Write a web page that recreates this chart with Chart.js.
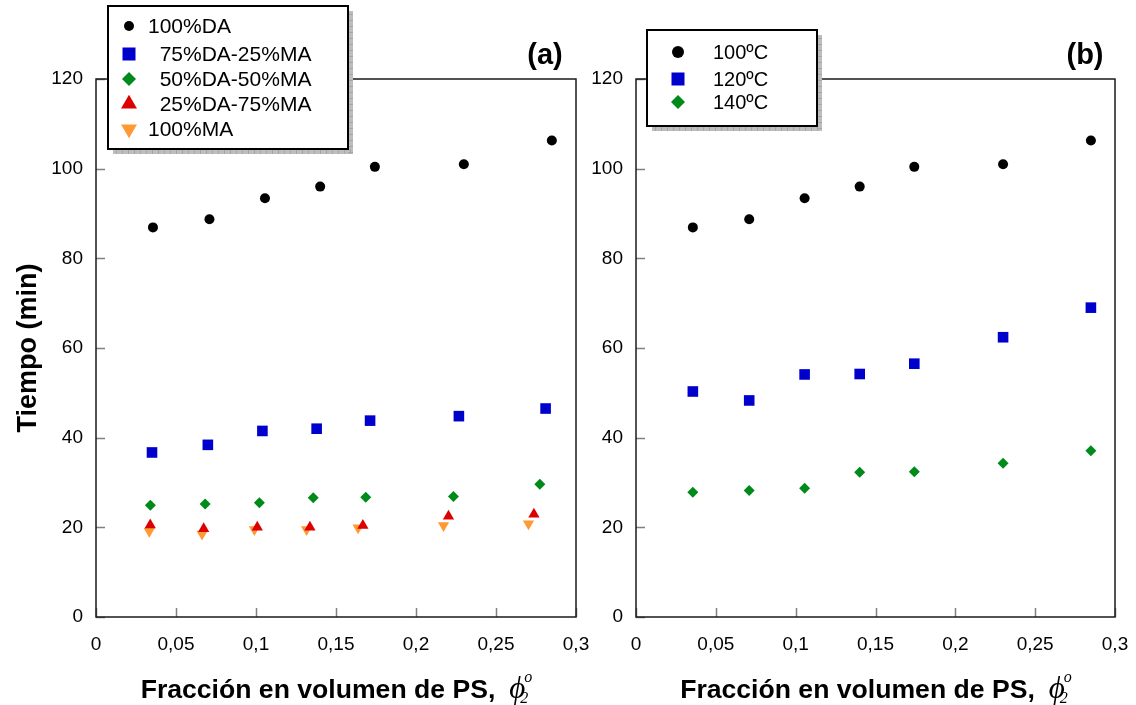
<!DOCTYPE html>
<html>
<head>
<meta charset="utf-8">
<title>Tiempo vs fracción de PS</title>
<script src="https://cdn.jsdelivr.net/npm/chart.js@4.4.1/dist/chart.umd.min.js"></script>
<style>
    body { margin: 0; background: #fff; }
    #wrap { position: relative; width: 1136px; height: 705px; overflow: hidden; }
    canvas { position: absolute; top: 0; }
    #chartA { left: 0; }
    #chartB { left: 560px; }
</style>
</head>
<body>
<div id="wrap">
    <canvas id="chartA" width="590" height="705"></canvas>
    <canvas id="chartB" width="576" height="705"></canvas>
</div>
<script>
// panel (a): composition series
const xDA = [0.0356, 0.0709, 0.1056, 0.1401, 0.1743, 0.2299, 0.2849];
const tDA = [86.9, 88.7, 93.4, 96.0, 100.4, 101.0, 106.3];
const x75 = [0.0350, 0.0699, 0.1040, 0.1379, 0.1713, 0.2268, 0.2810];
const t75 = [36.7, 38.4, 41.5, 42.0, 43.8, 44.8, 46.5];
const x50 = [0.0340, 0.0682, 0.1021, 0.1358, 0.1686, 0.2234, 0.2774];
const t50 = [24.9, 25.2, 25.5, 26.6, 26.7, 26.9, 29.6];
const x25 = [0.0339, 0.0673, 0.1008, 0.1337, 0.1668, 0.2203, 0.2737];
const t25 = [20.5, 19.7, 20.0, 20.0, 20.4, 22.5, 22.9];
const xMA = [0.0333, 0.0663, 0.0990, 0.1316, 0.1638, 0.2172, 0.2703];
const tMA = [19.1, 18.5, 19.5, 19.5, 19.9, 20.4, 20.8];

// panel (b): temperature series
const xTemp = [0.0356, 0.0709, 0.1056, 0.1401, 0.1743, 0.2299, 0.2849];
const t100C = [86.9, 88.7, 93.4, 96.0, 100.4, 101.0, 106.3];
const t120C = [50.3, 48.3, 54.1, 54.2, 56.5, 62.4, 69.0];
const t140C = [27.8, 28.2, 28.7, 32.3, 32.4, 34.3, 37.1];

const xTicks = [0, 0.05, 0.1, 0.15, 0.2, 0.25, 0.3];
const yTicks = [0, 20, 40, 60, 80, 100, 120];

const SANS = "'Liberation Sans', Arial, Helvetica, sans-serif";
const SERIF = "'Liberation Serif', 'Times New Roman', 'DejaVu Serif', serif";

function toPoints(xs, ys) {
    return xs.map((x, i) => ({ x: x, y: ys[i] }));
}

function commaLabel(value) {
    return String(Math.round(value * 100) / 100).replace(".", ",");
}

function series(label, xs, ys, color, style, radius, legendRadius, rotation) {
    return {
        label: label,
        data: toPoints(xs, ys),
        showLine: false,
        pointStyle: style,
        pointRadius: radius,
        pointRotation: rotation || 0,
        pointBackgroundColor: color,
        pointBorderColor: color,
        pointBorderWidth: 0,
        legendRadius: legendRadius,
    };
}

// inward tick marks and the box round the plot area
const framePlugin = {
    id: "frame",
    beforeDatasetsDraw(chart) {
        const { ctx, chartArea: a, scales } = chart;
        ctx.save();
        ctx.strokeStyle = "#808080";
        ctx.lineWidth = 1.5;
        ctx.beginPath();
        scales.x.ticks.forEach(function (t) {
            const px = Math.round(scales.x.getPixelForValue(t.value)) + 0.5;
            ctx.moveTo(px, a.bottom);
            ctx.lineTo(px, a.bottom - 9);
        });
        scales.y.ticks.forEach(function (t) {
            const py = Math.round(scales.y.getPixelForValue(t.value)) + 0.5;
            ctx.moveTo(a.left, py);
            ctx.lineTo(a.left + 9, py);
        });
        ctx.stroke();
        ctx.strokeStyle = "#1a1a1a";
        ctx.lineWidth = 1.5;
        ctx.strokeRect(a.left, a.top, a.right - a.left, a.bottom - a.top);
        ctx.restore();
    },
};

function drawMarker(ctx, ds, x, y) {
    ctx.fillStyle = ds.pointBackgroundColor;
    ctx.strokeStyle = ds.pointBorderColor;
    Chart.helpers.drawPoint(ctx, {
        pointStyle: ds.pointStyle,
        radius: ds.legendRadius,
        rotation: ds.pointRotation,
        borderWidth: 0,
    }, x, y);
}

// framed legend with drop shadow, panel tag and x-axis title
const decorPlugin = {
    id: "decor",
    afterDraw(chart, args, opts) {
        const ctx = chart.ctx;
        const a = chart.chartArea;
        const b = opts.box;
        ctx.save();

        // shadow
        ctx.fillStyle = "#bdbdbd";
        ctx.fillRect(b.x + 5, b.y + 5, b.w, b.h);
        ctx.strokeStyle = "#a6a6a6";
        ctx.lineWidth = 1;
        ctx.beginPath();
        for (let gx = b.x + 8; gx < b.x + b.w + 5; gx += 6) {
            ctx.moveTo(gx + 0.5, b.y + b.h);
            ctx.lineTo(gx + 0.5, b.y + b.h + 5);
        }
        for (let gy = b.y + 8; gy < b.y + b.h + 5; gy += 6) {
            ctx.moveTo(b.x + b.w, gy + 0.5);
            ctx.lineTo(b.x + b.w + 5, gy + 0.5);
        }
        ctx.stroke();

        ctx.fillStyle = "#fff";
        ctx.fillRect(b.x, b.y, b.w, b.h);
        ctx.strokeStyle = "#000";
        ctx.lineWidth = 2;
        ctx.strokeRect(b.x, b.y, b.w, b.h);

        ctx.font = opts.fontSize + "px " + SANS;
        ctx.textBaseline = "middle";
        ctx.textAlign = "left";
        chart.data.datasets.forEach(function (ds, i) {
            const ry = opts.rows[i];
            drawMarker(ctx, ds, opts.markerX, ry);
            ctx.fillStyle = "#000";
            ctx.fillText(ds.label, opts.textX, ry + 1);
        });

        // panel tag
        ctx.font = "bold 29px " + SANS;
        ctx.textAlign = "center";
        ctx.fillStyle = "#000";
        ctx.fillText(opts.tag, opts.tagX, 56);

        // x-axis title with the phi symbol
        const main = "Fracción en volumen de PS,";
        ctx.textAlign = "left";
        ctx.textBaseline = "alphabetic";
        ctx.font = "bold 26.6px " + SANS;
        const w1 = ctx.measureText(main).width;
        const gap = 14;
        ctx.font = "italic 31px " + SERIF;
        const wp = ctx.measureText("\u03D5").width;
        const total = w1 + gap + wp + 6;
        let x = (a.left + a.right) / 2 - total / 2;
        const y = 698;
        ctx.font = "bold 26.6px " + SANS;
        ctx.fillText(main, x, y);
        x += w1 + gap;
        ctx.font = "italic 31px " + SERIF;
        ctx.fillText("\u03D5", x, y);
        ctx.font = "italic 16px " + SERIF;
        ctx.fillText("2", x + wp - 5, y + 5);
        ctx.fillText("o", x + wp - 1, y - 16);

        ctx.restore();
    },
};

function buildOptions(yWidth, padRight, showTitle, decor) {
    return {
        responsive: false,
        animation: false,
        devicePixelRatio: 1,
        layout: { padding: { top: 79, right: padRight, bottom: 0, left: 0 } },
        scales: {
            x: {
                type: "linear",
                min: 0,
                max: 0.3,
                afterFit: function (s) {
                    s.height = 88;
                    s.paddingLeft = 0;
                    s.paddingRight = 0;
                },
                afterBuildTicks: function (s) {
                    s.ticks = xTicks.map(v => ({ value: v }));
                },
                grid: { display: false, drawTicks: false },
                border: { display: false },
                ticks: {
                    padding: 16,
                    color: "#000",
                    font: { family: SANS, size: 19 },
                    maxRotation: 0,
                    callback: commaLabel,
                },
            },
            y: {
                type: "linear",
                min: 0,
                max: 120,
                afterFit: function (s) {
                    s.width = yWidth;
                    s.paddingTop = 0;
                    s.paddingBottom = 0;
                },
                afterBuildTicks: function (s) {
                    s.ticks = yTicks.map(v => ({ value: v }));
                },
                grid: { display: false, drawTicks: false },
                border: { display: false },
                ticks: {
                    padding: 13,
                    color: "#000",
                    font: { family: SANS, size: 19 },
                    callback: commaLabel,
                },
                title: {
                    display: showTitle,
                    text: "Tiempo (min)",
                    color: "#000",
                    font: { family: SANS, size: 27, weight: "bold", lineHeight: 1.2 },
                    padding: { top: 12, bottom: 0 },
                },
            },
        },
        plugins: {
            legend: { display: false },
            tooltip: { enabled: false },
            decor: decor,
        },
    };
}

new Chart(document.getElementById("chartA"), {
    type: "scatter",
    data: {
        datasets: [
            series("100%DA", xDA, tDA, "#000000", "circle", 5, 5),
            series("  75%DA-25%MA", x75, t75, "#0000CC", "rect", 7.5, 9.2),
            series("  50%DA-50%MA", x50, t50, "#008A1A", "rectRot", 5.5, 7),
            series("  25%DA-75%MA", x25, t25, "#DD0000", "triangle", 6.5, 9.2),
            series("100%MA", xMA, tMA, "#FF9933", "triangle", 6.5, 9.2, 180),
        ],
    },
    options: buildOptions(96, 14, true, {
        box: { x: 108, y: 6, w: 240, h: 143 },
        markerX: 129,
        textX: 148,
        fontSize: 21,
        rows: [26, 54, 79, 104, 129],
        tag: "(a)",
        tagX: 545,
    }),
    plugins: [framePlugin, decorPlugin],
});

new Chart(document.getElementById("chartB"), {
    type: "scatter",
    data: {
        datasets: [
            series("100ºC", xTemp, t100C, "#000000", "circle", 5, 6),
            series("120ºC", xTemp, t120C, "#0000CC", "rect", 7.5, 9.2),
            series("140ºC", xTemp, t140C, "#008A1A", "rectRot", 5.5, 7),
        ],
    },
    options: buildOptions(76, 21, false, {
        box: { x: 87, y: 30, w: 170, h: 96 },
        markerX: 118,
        textX: 153,
        fontSize: 20,
        rows: [52, 79, 102],
        tag: "(b)",
        tagX: 525,
    }),
    plugins: [framePlugin, decorPlugin],
});
</script>
</body>
</html>
